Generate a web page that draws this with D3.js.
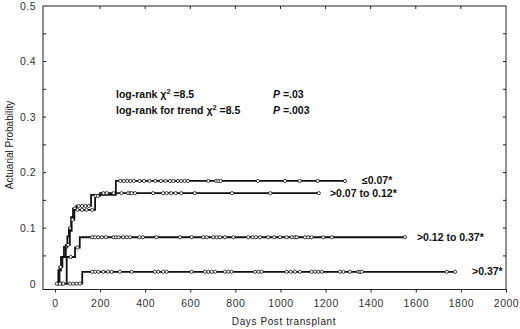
<!DOCTYPE html>
<html>
<head>
<meta charset="utf-8">
<script src="https://cdn.jsdelivr.net/npm/d3@7"></script>
<style>
  body { margin: 0; background: #fff; }
  svg { display: block; }
  text { font-family: "Liberation Sans", Arial, sans-serif; }
</style>
</head>
<body>
<script>
    var w = 520;
    var h = 329;

    // group labels
    var groups = ["\u22640.07*", ">0.07 to 0.12*", ">0.12 to 0.37*", ">0.37*"];

    // step times (days) and cumulative probability after each step
    var stepsA = [[15, 0.024], [27, 0.048], [40, 0.066], [55, 0.085], [62, 0.10], [72, 0.12], [80, 0.135], [95, 0.14], [160, 0.160], [270, 0.185]];
    var stepsB = [[20, 0.030], [33, 0.048], [48, 0.070], [66, 0.095], [74, 0.115], [86, 0.133], [178, 0.158], [200, 0.163]];
    var stepsC = [[52, 0.048], [89, 0.065], [110, 0.0836]];
    var stepsD = [[121, 0.0214]];

    // last follow-up day of each curve
    var lastDay = [1286, 1175, 1552, 1774];

    // censored observations (days)
    var censA = [12, 50, 68, 88, 105, 120, 135, 150, 290, 305, 320, 335, 350, 375, 395, 420, 445, 470, 490, 510, 525, 545, 560, 575, 590, 680, 715, 725, 735, 900, 1020, 1085, 1165, 1286];
    var censB = [25, 58, 78, 100, 120, 140, 165, 180, 190, 215, 230, 260, 295, 325, 335, 340, 355, 435, 480, 495, 515, 535, 560, 620, 785, 955, 1170];
    var censC = [30, 70, 100, 165, 178, 192, 207, 226, 260, 270, 282, 303, 318, 333, 375, 390, 450, 555, 606, 658, 673, 702, 717, 732, 754, 791, 857, 877, 891, 909, 946, 972, 998, 1027, 1050, 1064, 1072, 1109, 1123, 1138, 1190, 1227, 1552];
    var censD = [8, 22, 37, 67, 81, 96, 111, 165, 178, 192, 214, 236, 251, 288, 340, 443, 458, 480, 495, 606, 665, 680, 695, 710, 754, 769, 783, 887, 902, 916, 1027, 1045, 1064, 1086, 1138, 1153, 1168, 1183, 1264, 1279, 1308, 1345, 1353, 1360, 1737, 1774];

    var xTicks = [0, 200, 400, 600, 800, 1000, 1200, 1400, 1600, 1800, 2000];
    var yTicks = [0, 0.1, 0.2, 0.3, 0.4, 0.5];

    // gap between curve end and its label (px)
    var labelGap = [17, 10, 12, 17];

    var curves = [
        {steps: stepsA, end: lastDay[0], cens: censA, label: groups[0], gap: labelGap[0]},
        {steps: stepsB, end: lastDay[1], cens: censB, label: groups[1], gap: labelGap[1]},
        {steps: stepsC, end: lastDay[2], cens: censC, label: groups[2], gap: labelGap[2]},
        {steps: stepsD, end: lastDay[3], cens: censD, label: groups[3], gap: labelGap[3]}
    ];

    var svg = d3.select("body")
                .append("svg")
                .attr("width", w)
                .attr("height", h);

    var x = d3.scaleLinear().domain([-53, 2000]).range([43, 506]);
    var y = d3.scaleLinear().domain([-0.0105, 0.5]).range([289.5, 6]);

    // frame
    svg.append("rect")
       .attr("x", x.range()[0])
       .attr("y", y.range()[1])
       .attr("width", x.range()[1] - x.range()[0])
       .attr("height", y.range()[0] - y.range()[1])
       .attr("fill", "none")
       .attr("stroke", "#222")
       .attr("stroke-width", 1);

    // axes
    var xAxis = d3.axisBottom(x).tickValues(xTicks).tickSize(3).tickSizeOuter(0).tickPadding(7)
                  .tickFormat(d3.format("d"));
    var gx = svg.append("g").attr("transform", "translate(0," + y.range()[0] + ")").call(xAxis);
    gx.select(".domain").remove();

    var yAxis = d3.axisLeft(y).tickValues(yTicks).tickSize(0).tickPadding(7)
                  .tickFormat(function(d) { return d === 0 ? "0" : d3.format(".1f")(d); });
    var gy = svg.append("g").attr("transform", "translate(" + x.range()[0] + ",0)").call(yAxis);
    gy.select(".domain").remove();

    svg.selectAll(".tick text")
       .attr("font-size", 10.5)
       .attr("fill", "#333")
       .attr("font-family", "Liberation Sans, Arial, sans-serif")
       .style("letter-spacing", "0.5px");
    svg.selectAll(".tick line").attr("stroke", "#222");

    // inner minor ticks on frame
    var yMinor = d3.range(0.05, 0.5, 0.05);
    svg.selectAll(".ltick").data(yMinor).enter().append("line")
       .attr("x1", x.range()[0]).attr("x2", x.range()[0] + 3)
       .attr("y1", d => y(d)).attr("y2", d => y(d))
       .attr("stroke", "#222");
    svg.selectAll(".rtick").data(yMinor).enter().append("line")
       .attr("x1", x.range()[1]).attr("x2", x.range()[1] - 3)
       .attr("y1", d => y(d)).attr("y2", d => y(d))
       .attr("stroke", "#222");
    svg.selectAll(".ttick").data(xTicks.slice(1, -1)).enter().append("line")
       .attr("x1", d => x(d)).attr("x2", d => x(d))
       .attr("y1", y.range()[1]).attr("y2", y.range()[1] + 3)
       .attr("stroke", "#222");

    // axis titles
    svg.append("text")
       .attr("x", 284).attr("y", 325)
       .attr("text-anchor", "middle")
       .attr("font-size", 10)
       .attr("fill", "#222")
       .style("letter-spacing", "0.6px")
       .text("Days Post transplant");

    svg.append("text")
       .attr("transform", "translate(13,145) rotate(-90)")
       .attr("text-anchor", "middle")
       .attr("font-size", 10)
       .attr("fill", "#222")
       .text("Actuarial Probability");

    // statistics
    var stats = svg.append("g").attr("font-size", 10.5).attr("font-weight", "bold").attr("fill", "#111");
    function chiLine(yPos, prefix) {
        var t = stats.append("text").attr("x", 116).attr("y", yPos);
        t.append("tspan").text(prefix + "\u03c7");
        t.append("tspan").attr("font-size", 7.5).attr("dy", -4).text("2");
        t.append("tspan").attr("dy", 4).text(" =8.5");
    }
    chiLine(98, "log-rank ");
    chiLine(114, "log-rank for trend ");
    var p1 = stats.append("text").attr("x", 273).attr("y", 98);
    p1.append("tspan").attr("font-style", "italic").text("P");
    p1.append("tspan").text(" =.03");
    var p2 = stats.append("text").attr("x", 273).attr("y", 114);
    p2.append("tspan").attr("font-style", "italic").text("P");
    p2.append("tspan").text(" =.003");

    function valueAt(steps, t) {
        var v = 0;
        steps.forEach(function(s) { if (s[0] <= t) v = s[1]; });
        return v;
    }

    var line = d3.line()
                 .x(d => x(d[0]))
                 .y(d => y(d[1]))
                 .curve(d3.curveStepAfter);

    curves.forEach(function(c) {
        var pts = [[5, 0]].concat(c.steps, [[c.end, c.steps[c.steps.length - 1][1]]]);
        svg.append("path")
           .attr("d", line(pts))
           .attr("fill", "none")
           .attr("stroke", "#111")
           .attr("stroke-width", 1.8);

        svg.selectAll(null)
           .data(c.cens)
           .enter()
           .append("circle")
           .attr("cx", d => x(d))
           .attr("cy", d => y(valueAt(c.steps, d)))
           .attr("r", 1.6)
           .attr("fill", "#fff")
           .attr("stroke", "#111")
           .attr("stroke-width", 0.8);

        var endP = c.steps[c.steps.length - 1][1];
        svg.append("text")
           .attr("x", x(c.end) + c.gap)
           .attr("y", y(endP) + 3.5)
           .attr("font-size", 10.5)
           .attr("font-weight", "bold")
           .attr("fill", "#111")
           .text(c.label);
    });
</script>
</body>
</html>
